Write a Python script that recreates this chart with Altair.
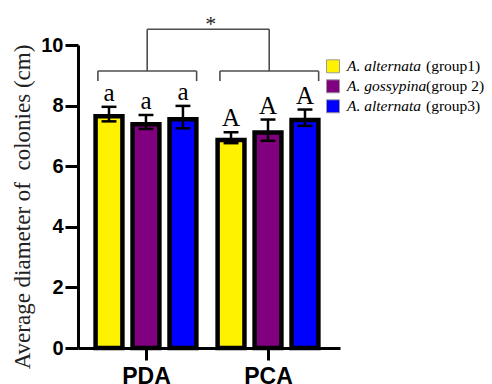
import altair as alt
import pandas as pd

# ---- data ----
groups = ["PDA", "PCA"]
series = ["A. alternata (group1)", "A. gossypina (group 2)", "A. alternata (group3)"]
species = ["A. alternata", "A. gossypina", "A. alternata"]
group_tags = ["(group1)", "(group 2)", "(group3)"]
colors = ["#FFF200", "#800080", "#0000FF"]

means_pda = [7.72, 7.46, 7.62]
means_pca = [6.94, 7.19, 7.60]
err_pda = [0.24, 0.23, 0.37]
err_pca = [0.18, 0.35, 0.27]
letters_pda = ["a", "a", "a"]
letters_pca = ["A", "A", "A"]

y_ticks = [0, 2, 4, 6, 8, 10]
y_title = "Average diameter of\u00a0 colonies (cm)"

SERIF = "Liberation Serif, Times New Roman, serif"
SANS = "Liberation Sans, Arial, sans-serif"

rows = []
for gi, (g, ms, es, ls) in enumerate(zip(groups, [means_pda, means_pca], [err_pda, err_pca], [letters_pda, letters_pca])):
    for si, s in enumerate(series):
        rows.append({"group": g, "gi": gi, "si": si, "series": s,
                     "mean": ms[si], "err": es[si], "letter": ls[si]})
df = pd.DataFrame(rows)

x_scale = alt.Scale(domain=[-0.557, 1.59], nice=False, zero=False)
y_scale = alt.Scale(domain=[0, 10], nice=False)
color_scale = alt.Scale(domain=series, range=colors)

label_expr = "[" + ",".join(f"'{g}'" for g in groups) + "][datum.value]"

# bar outline is drawn inside the bar in the reference: pull the rect top down by half a stroke
half_stroke = 2.25 / 30.3

base = alt.Chart(df).transform_calculate(
    xc="datum.gi + (datum.si - 1) * 0.303",
    xl="datum.gi + (datum.si - 1) * 0.303 - 0.11",
    xr="datum.gi + (datum.si - 1) * 0.303 + 0.11",
    cl="datum.gi + (datum.si - 1) * 0.303 - 0.061",
    cr="datum.gi + (datum.si - 1) * 0.303 + 0.061",
    top=f"datum.mean - {half_stroke}",
    hi="datum.mean + datum.err",
    lo="datum.mean - datum.err",
)

x_axis = alt.Axis(values=[0, 1], labelExpr=label_expr, title=None, grid=False,
                  labelFont=SANS, labelFontWeight="bold", labelFontSize=23,
                  labelColor="black", labelPadding=5, tickSize=12, tickWidth=3,
                  tickColor="black", domainWidth=3, domainColor="black")
y_axis = alt.Axis(values=y_ticks, title=y_title, grid=False,
                  labelFont=SANS, labelFontWeight="bold", labelFontSize=20,
                  labelColor="black", labelPadding=2, tickSize=13, tickWidth=3,
                  tickColor="black", domainWidth=3, domainColor="black",
                  titleFont=SERIF, titleFontSize=23, titleFontWeight="normal",
                  titleColor="#222222", titleX=-49, titleY=161.5, titleAngle=270,
                  titleAlign="center", titleBaseline="alphabetic")

bars = base.mark_rect(stroke="black", strokeWidth=4.5).encode(
    x=alt.X("xl:Q", scale=x_scale, axis=x_axis),
    x2="xr:Q",
    y=alt.Y("top:Q", scale=y_scale, axis=y_axis),
    y2=alt.datum(0),
    color=alt.Color("series:N", scale=color_scale, legend=None),
)

err_line = base.mark_rule(color="black", strokeWidth=2.5).encode(
    x="xc:Q", y="lo:Q", y2="hi:Q")
cap_hi = base.mark_rule(color="black", strokeWidth=2.5).encode(
    x="cl:Q", x2="cr:Q", y="hi:Q")
cap_lo = base.mark_rule(color="black", strokeWidth=2.5).encode(
    x="cl:Q", x2="cr:Q", y="lo:Q")

letters = base.mark_text(font=SERIF, fontSize=25, color="black",
                         baseline="alphabetic", dy=-6).encode(
    x="xc:Q", y="hi:Q", text="letter:N")

# significance brackets (data units)
seg = []
for gi in range(len(groups)):
    seg.append({"x": gi - 0.394, "x2": gi + 0.415, "y": 9.14, "y2": 9.14})
    seg.append({"x": gi - 0.394, "x2": gi - 0.394, "y": 8.81, "y2": 9.14})
    seg.append({"x": gi + 0.415, "x2": gi + 0.415, "y": 8.81, "y2": 9.14})
    seg.append({"x": gi + 0.01, "x2": gi + 0.01, "y": 9.14, "y2": 10.52})
seg.append({"x": 0.01, "x2": 1.01, "y": 10.52, "y2": 10.52})
seg_df = pd.DataFrame(seg)

brackets = alt.Chart(seg_df).mark_rule(color="#4d4d4d", strokeWidth=1.6).encode(
    x=alt.X("x:Q", scale=x_scale), x2="x2:Q",
    y=alt.Y("y:Q", scale=y_scale), y2="y2:Q")

star = alt.Chart(pd.DataFrame({"t": ["*"]})).mark_text(
    font=SERIF, fontSize=22, color="#222222", baseline="alphabetic", dy=2
).encode(x=alt.datum(0.53, scale=x_scale), y=alt.datum(10.52, scale=y_scale), text="t:N")

main = alt.layer(bars, err_line, cap_hi, cap_lo, letters, brackets, star)

# custom legend (italic species + roman group tag)
leg_df = pd.DataFrame({"series": series, "species": species, "tag": group_tags})
leg_y = alt.Y("series:N", scale=alt.Scale(type="point", domain=series, range=[21.3, 61.3], padding=0), axis=None)
leg_base = alt.Chart(leg_df)
leg_sq = leg_base.mark_square(size=169, opacity=1, filled=True, stroke="#9a9a9a", strokeWidth=1).encode(
    x=alt.value(255), y=leg_y,
    color=alt.Color("series:N", scale=color_scale, legend=None))
leg_sp = leg_base.mark_text(font=SERIF, fontSize=15.5, fontStyle="italic", color="black",
                            align="left", baseline="alphabetic", dy=4.5).encode(
    x=alt.value(269), y=leg_y, text="species:N")
leg_tag = leg_base.mark_text(font=SERIF, fontSize=15.5, color="black",
                             align="left", baseline="alphabetic", dy=4.5).encode(
    x=alt.value(348), y=leg_y, text="tag:N")
legend = alt.layer(leg_sq, leg_sp, leg_tag)

chart = alt.layer(main, legend).resolve_scale(y="independent").properties(
    width=262, height=303,
    autosize=alt.AutoSizeParams(type="none"),
    padding={"left": 70, "top": 37, "right": 144, "bottom": 40},
).configure_view(stroke=None)

chart.save("out.html", embed_options={"renderer": "svg", "actions": False})
